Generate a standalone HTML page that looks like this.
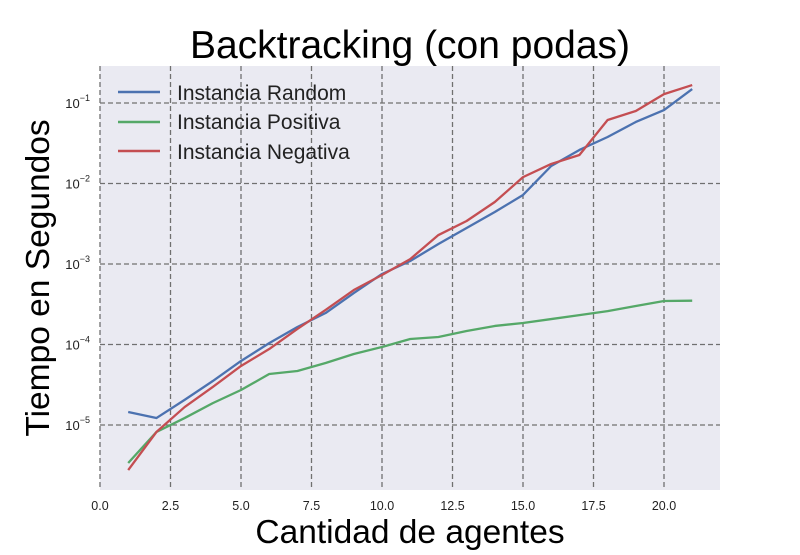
<!DOCTYPE html>
<html><head><meta charset="utf-8"><style>
body{margin:0;background:#fff;width:800px;height:550px;overflow:hidden;font-family:"Liberation Sans",sans-serif}
</style></head><body>
<svg id="chart" width="800" height="550" xmlns="http://www.w3.org/2000/svg" font-family="Liberation Sans, sans-serif">
<text x="410" y="58" font-size="39" text-anchor="middle" fill="#000">Backtracking (con podas)</text>
<text x="410" y="543" font-size="33.5" text-anchor="middle" fill="#000">Cantidad de agentes</text>
<text transform="translate(49,278) rotate(-90)" font-size="33.5" text-anchor="middle" fill="#000">Tiempo en Segundos</text>
<rect x="100" y="66" width="620" height="424" fill="#eaeaf2"/>
<g id="grid"></g><g id="series"></g><g id="ticks"></g>
<g>
<line x1="118" y1="92" x2="160" y2="92" stroke="#4c72b0" stroke-width="2.5"/>
<text x="177" y="100" font-size="21" fill="#222">Instancia Random</text>
<line x1="118" y1="122" x2="160" y2="122" stroke="#55a868" stroke-width="2.5"/>
<text x="177" y="129" font-size="21" fill="#222">Instancia Positiva</text>
<line x1="118" y1="151" x2="160" y2="151" stroke="#c44e52" stroke-width="2.5"/>
<text x="177" y="159" font-size="21" fill="#222">Instancia Negativa</text>
</g>
</svg>
<script>
const xs=[1,2,3,4,5,6,7,8,9,10,11,12,13,14,15,16,17,18,19,20,21];
const randomVals=[1.45e-5,1.22e-5,2.05e-5,3.52e-5,6.24e-5,1.04e-4,1.65e-4,2.46e-4,4.36e-4,7.51e-4,1.09e-3,1.77e-3,2.80e-3,4.42e-3,7.20e-3,1.65e-2,2.61e-2,3.78e-2,5.81e-2,8.18e-2,0.149];
const positivaVals=[3.37e-6,8.18e-6,1.22e-5,1.87e-5,2.72e-5,4.30e-5,4.69e-5,5.89e-5,7.62e-5,9.31e-5,1.17e-4,1.24e-4,1.47e-4,1.70e-4,1.85e-4,2.07e-4,2.32e-4,2.60e-4,3.01e-4,3.47e-4,3.50e-4];
const negativaVals=[2.76e-6,8.18e-6,1.67e-5,2.97e-5,5.41e-5,8.79e-5,1.56e-4,2.69e-4,4.75e-4,7.30e-4,1.15e-3,2.29e-3,3.42e-3,5.89e-3,1.20e-2,1.75e-2,2.26e-2,6.15e-2,7.96e-2,0.129,0.167];
const xTicks=[0,2.5,5,7.5,10,12.5,15,17.5,20];
const xTickLabels=["0.0","2.5","5.0","7.5","10.0","12.5","15.0","17.5","20.0"];
const yExps=[-5,-4,-3,-2,-1];

const NS="http://www.w3.org/2000/svg";
const X=v=>100+v*28.2;
const Y=v=>103-(Math.log10(v)+1)*80.5;
function mk(tag,attrs,parent){const e=document.createElementNS(NS,tag);for(const k in attrs)e.setAttribute(k,attrs[k]);parent.appendChild(e);return e;}
const grid=document.getElementById('grid'),ticks=document.getElementById('ticks'),ser=document.getElementById('series');
xTicks.forEach((t,i)=>{
 const l=mk('line',{x1:X(t),x2:X(t),y1:66,y2:490,stroke:'#707070','stroke-width':1.3,'stroke-dasharray':'5,3'},grid);
 
 
 const tx=mk('text',{x:X(t),y:510,'font-size':12.5,'text-anchor':'middle',fill:'#222'},ticks);
 tx.textContent=xTickLabels[i];
 
 
});
yExps.forEach(e=>{
 const y=Y(Math.pow(10,e));
 const l=mk('line',{x1:100,x2:720,y1:y,y2:y,stroke:'#707070','stroke-width':1.3,'stroke-dasharray':'5,3'},grid);
 
 
 const tx=mk('text',{x:90,y:y+5,'font-size':13,'text-anchor':'end',fill:'#222'},ticks);
 tx.innerHTML='10<tspan dy="-7" font-size="9">'+(e<0?'\u2212':'')+Math.abs(e)+'</tspan>';
 
 
});
[[randomVals,'#4c72b0','line-random'],[positivaVals,'#55a868','line-positiva'],[negativaVals,'#c44e52','line-negativa']].forEach(([vals,c,n])=>{
 const p=mk('polyline',{points:vals.map((v,i)=>X(xs[i])+','+Y(v)).join(' '),fill:'none',stroke:c,'stroke-width':2.3,'stroke-linejoin':'round'},ser);
 
 
});
</script>
</body></html>
